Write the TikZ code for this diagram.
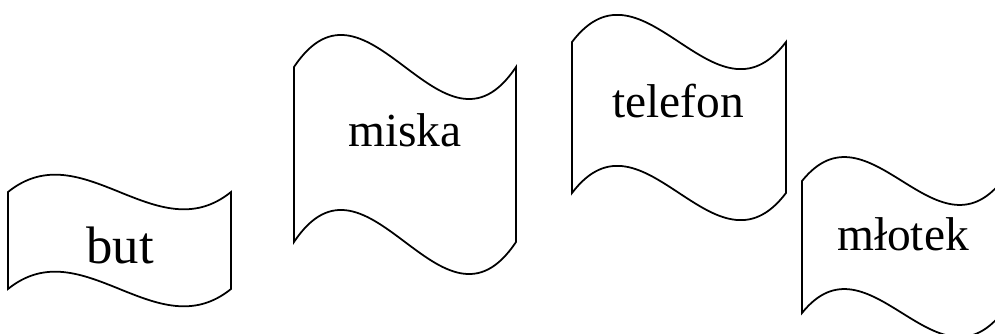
\documentclass[tikz,border=0pt]{standalone}
\usepackage{fontspec}
\setmainfont{Liberation Serif}

\tikzset{
  fala/.style={draw, line width=1pt},
  slowo/.style={anchor=base, inner sep=0pt, font=\fontsize{27}{32}\selectfont}
}

\begin{document}
\begin{tikzpicture}[x=0.02cm, y=-0.02cm]
			\useasboundingbox (0,0) rectangle (995,334);
			\clip (0,0) rectangle (995,334);
			
			% left x / top y / width / height / bend
			\foreach \x/\y/\w/\h/\k in {8/192/223/97/60, 294/67/222/175/111, 572/42/214/151/94, 802/181/200/132/83}
			{
				\path[fala] (\x,\y) .. controls +(\w/3,-\k) and +(-\w/3,\k) .. (\x+\w,\y)
					-- (\x+\w,\y+\h) .. controls +(-\w/3,\k) and +(\w/3,-\k) .. (\x,\y+\h) -- cycle;
			}
			
			\node[slowo, font=\fontsize{30}{35}\selectfont] (but) at (120,264) {but};
			\node[slowo] (miska) at (405,147) {miska};
			\node[slowo] (telefon) at (678,118) {telefon};
			\node[slowo] (mlotek) at (903,251) {młotek};
		\end{tikzpicture}
\end{document}
